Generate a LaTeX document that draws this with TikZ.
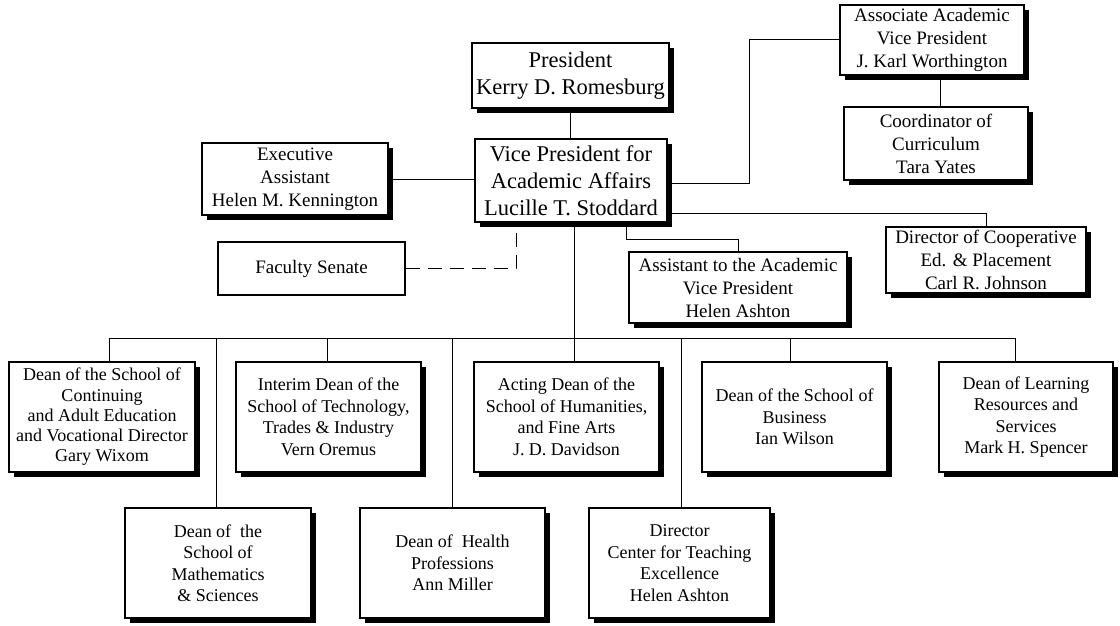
\documentclass[tikz,border=0pt]{standalone}
\usepackage{fontspec}
\setmainfont{Liberation Serif}
\usetikzlibrary{shadows}
\begin{document}
\begin{tikzpicture}[x=1pt,y=-1pt,
  box/.style={draw, line width=1.1pt, fill=white, align=center, inner sep=0pt,
    font=\fontsize{18}{21.5}\selectfont},
  shbox/.style={box, general shadow={fill=black, shadow xshift=5pt, shadow yshift=-5pt}},
  big/.style={font=\fontsize{22.5}{27}\selectfont},
  mid/.style={font=\fontsize{19}{23}\selectfont},
  conn/.style={line width=1pt},
  dashconn/.style={line width=1pt, dash pattern=on 14pt off 8pt}
]
\useasboundingbox (0,0) rectangle (1120,626);
\fill[white] (0,0) rectangle (1120,626);

% upper part
\node[shbox, big, minimum width=197pt, minimum height=65pt] (pres) at (570.5,75.5) {President\\Kerry D. Romesburg};
\node[shbox, big, minimum width=192pt, minimum height=83pt] (vp) at (571,180.5) {Vice President for\\Academic Affairs\\Lucille T. Stoddard};
\node[shbox, mid, minimum width=186pt, minimum height=72pt] (exec) at (295,179) {Executive\\Assistant\\Helen M. Kennington};
\node[box, mid, minimum width=187pt, minimum height=53pt] (senate) at (311.5,268.5) {Faculty Senate};
\node[shbox, mid, minimum width=184pt, minimum height=70pt] (assoc) at (932,40) {Associate Academic\\Vice President\\J. Karl Worthington};
\node[shbox, mid, minimum width=184pt, minimum height=73pt] (coord) at (936,143.5) {Coordinator of\\Curriculum\\Tara Yates};
\node[shbox, mid, minimum width=200pt, minimum height=66pt] (coop) at (986,260) {Director of Cooperative\\Ed. \& Placement\\Carl R. Johnson};
\node[shbox, mid, minimum width=218pt, minimum height=71pt] (asst) at (738,287.5) {Assistant to the Academic\\Vice President\\Helen Ashton};

% row 1
\node[shbox, minimum width=186pt, minimum height=110pt, font=\fontsize{18}{20.3}\selectfont] (cont) at (102,417) {Dean of the School of\\Continuing\\and Adult Education\\and Vocational Director\\Gary Wixom};
\node[shbox, minimum width=185pt, minimum height=110pt] (tech) at (328.5,417) {Interim Dean of the\\School of Technology,\\Trades \& Industry\\Vern Oremus};
\node[shbox, minimum width=185pt, minimum height=110pt] (hum) at (566.5,417) {Acting Dean of the\\School of Humanities,\\and Fine Arts\\J. D. Davidson};
\node[shbox, minimum width=185pt, minimum height=110pt] (busn) at (794.5,417) {Dean of the School of\\Business\\Ian Wilson};
\node[shbox, minimum width=174pt, minimum height=110pt] (learn) at (1026,417) {Dean of Learning\\Resources and\\Services\\Mark H. Spencer};

% row 2
\node[shbox, minimum width=186pt, minimum height=110pt] (math) at (218,563) {Dean of\ \ the\\School of\\Mathematics\\\& Sciences};
\node[shbox, minimum width=185pt, minimum height=110pt] (health) at (452.5,563) {Dean of\ \ Health\\Professions\\Ann Miller};
\node[shbox, minimum width=181pt, minimum height=110pt] (cte) at (679.5,563) {Director\\Center for Teaching\\Excellence\\Helen Ashton};

% connectors, upper
\draw[conn] (pres.south) -- (pres.south |- vp.north);
\draw[conn] (exec.east) -- (exec.east -| vp.west);
\draw[dashconn] (senate.east) -| ([xshift=-55pt]vp.south);
\coordinate (j1) at (749,40);
\draw[conn] ([yshift=-2.5pt]vp.east) -| (j1) -- (assoc.west);
\draw[conn] ([xshift=8pt]assoc.south) -- ([xshift=8pt]assoc.south |- coord.north);
\draw[conn] ([yshift=-32.5pt]vp.east) -| (coop.north);
\draw[conn] ([xshift=55pt]vp.south) -- ++(0,17) -| (asst.north);

% trunk and bus
\coordinate (busL) at (109,338);
\coordinate (busR) at (1015,338);
\coordinate (dmath) at (216,338);
\coordinate (dtech) at (327,338);
\coordinate (dhealth) at (452,338);
\coordinate (dcte) at (681,338);
\coordinate (dbusn) at (790,338);
\draw[conn] (busL) -- (busR);
\draw[conn] ([xshift=3pt]vp.south) -- ([xshift=3pt]vp.south |- hum.north);
\draw[conn] (busL) -- (busL |- cont.north);
\draw[conn] (dtech) -- (dtech |- tech.north);
\draw[conn] (dbusn) -- (dbusn |- busn.north);
\draw[conn] (busR) -- (busR |- learn.north);
\draw[conn] (dmath) -- (dmath |- math.north);
\draw[conn] (dhealth) -- (dhealth |- health.north);
\draw[conn] (dcte) -- (dcte |- cte.north);
\end{tikzpicture}
\end{document}
